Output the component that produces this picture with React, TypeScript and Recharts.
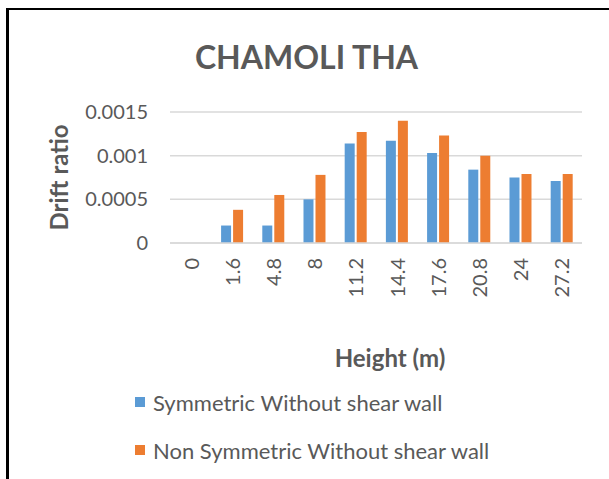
import { BarChart, Bar, XAxis, YAxis, CartesianGrid, Legend } from 'recharts';

const heights = ['0', '1.6', '4.8', '8', '11.2', '14.4', '17.6', '20.8', '24', '27.2'];
const symmetric = [0, 0.0002, 0.0002, 0.0005, 0.00114, 0.00117, 0.00103, 0.00084, 0.00075, 0.00071];
const nonSymmetric = [0, 0.00038, 0.00055, 0.00078, 0.00127, 0.0014, 0.00123, 0.001, 0.00079, 0.00079];
const yTicks = [0, 0.0005, 0.001, 0.0015];

const data = heights.map((h, i) => ({
  height: h,
  symmetric: symmetric[i],
  nonSymmetric: nonSymmetric[i],
}));

const FONT = 'Lato, "Liberation Sans", sans-serif';
const TEXT = '#595959';

const XTick = ({ x, y, payload }: any) => (
  <text
    x={0}
    y={0}
    transform={`translate(${x},${y + 7}) rotate(-90)`}
    textAnchor="end"
    dominantBaseline="central"
    fill={TEXT}
    fontSize={20}
    fontFamily={FONT}
  >
    {payload.value}
  </text>
);

const renderLegend = () => (
  <div style={{ fontFamily: FONT, fontSize: 22, color: TEXT }}>
    {[
      { name: 'Symmetric Without shear wall', color: '#5B9BD5' },
      { name: 'Non Symmetric Without shear wall', color: '#ED7D31' },
    ].map((item) => (
      <div key={item.name} style={{ display: 'flex', alignItems: 'center', height: 48 }}>
        <span style={{ width: 10, height: 10, background: item.color, marginRight: 8, display: 'inline-block' }} />
        <span>{item.name}</span>
      </div>
    ))}
  </div>
);

export default function App() {
  return (
    <div style={{ position: 'absolute', left: 0, top: 0, width: 609, height: 479, background: '#fff', overflow: 'hidden' }}>
      <div
        style={{
          position: 'absolute',
          left: 6,
          top: 8,
          width: 620,
          height: 500,
          borderTop: '2px solid #000',
          borderLeft: '3px solid #000',
        }}
      />
      <div
        style={{
          position: 'absolute',
          left: 0,
          width: 609,
          top: 37,
          textAlign: 'center',
          fontFamily: FONT,
          fontWeight: 700,
          fontSize: 32,
          color: TEXT,
        }}
      >
        <span style={{ position: 'relative', left: 2 }}>CHAMOLI THA</span>
      </div>
      <div style={{ position: 'absolute', left: 0, top: 0 }}>
        <BarChart
          width={609}
          height={479}
          data={data}
          margin={{ top: 112, right: 27, bottom: 0, left: 0 }}
          barCategoryGap="24%"
          barGap={2}
        >
          <CartesianGrid vertical={false} stroke="#D9D9D9" strokeWidth={1.5} />
          <XAxis
            dataKey="height"
            height={236}
            interval={0}
            axisLine={{ stroke: '#D9D9D9', strokeWidth: 1.5 }}
            tickLine={false}
            tick={<XTick />}
            label={{
              content: ({ viewBox }: any) => (
                <text
                  x={viewBox.x + viewBox.width / 2 + 14}
                  y={viewBox.y + 114}
                  textAnchor="middle"
                  dominantBaseline="central"
                  fill={TEXT}
                  fontSize={24}
                  fontWeight={700}
                  fontFamily={FONT}
                >
                  Height (m)
                </text>
              ),
            }}
          />
          <YAxis
            width={170}
            domain={[0, 0.0015]}
            ticks={yTicks}
            axisLine={false}
            tickLine={false}
            tickMargin={16}
            tick={{ fill: TEXT, fontSize: 20, fontFamily: FONT }}
            label={{
              content: ({ viewBox }: any) => {
                const cx = viewBox.x + 58;
                const cy = viewBox.y + viewBox.height / 2;
                return (
                  <text
                    x={cx}
                    y={cy}
                    transform={`rotate(-90, ${cx}, ${cy})`}
                    textAnchor="middle"
                    dominantBaseline="central"
                    fill={TEXT}
                    fontSize={24}
                    fontWeight={700}
                    fontFamily={FONT}
                  >
                    Drift ratio
                  </text>
                );
              },
            }}
          />
          <Legend
            layout="vertical"
            align="center"
            verticalAlign="middle"
            content={renderLegend}
            wrapperStyle={{ left: 135, top: 378, width: 440 }}
          />
          <Bar dataKey="symmetric" name="Symmetric Without shear wall" fill="#5B9BD5" isAnimationActive={false} />
          <Bar dataKey="nonSymmetric" name="Non Symmetric Without shear wall" fill="#ED7D31" isAnimationActive={false} />
        </BarChart>
      </div>
    </div>
  );
}
